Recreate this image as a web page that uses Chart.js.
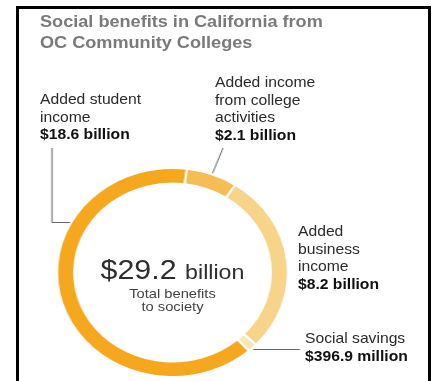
<!DOCTYPE html>
<html>
<head>
<meta charset="utf-8">
<script src="https://cdn.jsdelivr.net/npm/chart.js@4.4.0/dist/chart.umd.min.js"></script>
<style>
  body { margin: 0; width: 433px; height: 381px; background: #fff; overflow: hidden; position: relative; font-family: "Liberation Sans", Arial, sans-serif; }
  #frame { position: absolute; left: 16px; top: 6px; width: 415px; height: 400px; box-sizing: border-box; border: 3px solid #000; border-bottom: none; }
  #wrap { position: absolute; left: 0; top: 0; transform-origin: 0 0; }
  .t { position: absolute; white-space: nowrap; transform: scaleX(1.105); transform-origin: 0 0; }
  #title { left: 40px; top: 11px; font-size: 16.4px; font-weight: bold; color: #7a7a7a; line-height: 21px; }
  .lab { font-size: 14.2px; line-height: 17.5px; color: #2b2b2b; }
  .lab b { color: #111; }
  #center { left: 62px; width: 221px; top: 255px; text-align: center; color: #2e2e2e; transform-origin: 50% 0; }
  #center .big { font-size: 27.5px; line-height: 30px; }
  #center .big span { font-size: 21px; }
  #center .sub { font-size: 13.3px; line-height: 13px; color: #444; }
</style>
</head>
<body>
<div id="frame"></div>
<div id="wrap"><canvas id="c"></canvas></div>
<div class="t" id="title">Social benefits in California from<br>OC Community Colleges</div>
<div class="t lab" style="left:40px;top:91px">Added student<br>income<br><b>$18.6 billion</b></div>
<div class="t lab" style="left:215px;top:74px">Added income<br>from college<br>activities<br><b>$2.1 billion</b></div>
<div class="t lab" style="left:298px;top:223px">Added<br>business<br>income<br><b>$8.2 billion</b></div>
<div class="t lab" style="left:305px;top:330px">Social savings<br><b>$396.9 million</b></div>
<div class="t" id="center"><div class="big">$29.2 <span>billion</span></div><div class="sub">Total benefits<br>to society</div></div>
<script>
var categories = ['Added student income', 'Added income from college activities', 'Added business income', 'Social savings']
var valores = [18.6, 2.1, 8.2, 0.3969]  // billions
var cores = ['#f5a81e', '#f6bd55', '#f8d38a', '#fae6b5']

// the picture is a bit wider than tall
var esticar = 1.105
var W = Math.round(433 / esticar), H = 381
var canvas = document.getElementById('c')
canvas.width = W
canvas.height = H
canvas.style.width = W + 'px'
canvas.style.height = H + 'px'
document.getElementById('wrap').style.transform = 'scaleX(' + esticar + ')'

var cx = 172.5 / esticar, cy = 272.5

// leader lines: arc index, position along the arc, label end (page coords)
var linhas = [
  { i: 0, frac: 0.70, tipo: 'cotovelo', x: 52, y: 148 },
  { i: 1, frac: 0.5, tipo: 'reta', x: 223, y: 148 },
  { i: 3, frac: 0.5, tipo: 'horiz', x: 300 }
]

const leaderPlugin = {
  id: 'leaders',
  afterDatasetsDraw(chart) {
    var ctx = chart.ctx
    var meta = chart.getDatasetMeta(0)
    ctx.save()
    ctx.strokeStyle = '#666'
    ctx.lineWidth = 1
    linhas.forEach(function (l) {
      var arc = meta.data[l.i]
      var a = arc.startAngle + l.frac * (arc.endAngle - arc.startAngle)
      var px = arc.x + Math.cos(a) * (arc.outerRadius + 1)
      var py = arc.y + Math.sin(a) * (arc.outerRadius + 1)
      ctx.beginPath()
      if (l.tipo == 'cotovelo') {
        var lx = l.x / esticar
        ctx.moveTo(lx, l.y)
        ctx.lineTo(lx, Math.round(py) + 0.5)
        ctx.lineTo(px, Math.round(py) + 0.5)
      } else if (l.tipo == 'reta') {
        ctx.moveTo(l.x / esticar, l.y)
        ctx.lineTo(px, py)
      } else {
        ctx.moveTo(px, Math.round(py) + 0.5)
        ctx.lineTo(l.x / esticar, Math.round(py) + 0.5)
      }
      ctx.stroke()
    })
    ctx.restore()
  }
}

const data = {
  labels: categories,
  datasets: [{
    data: valores,
    backgroundColor: cores,
    borderColor: '#ffffff',
    borderWidth: 2,
    hoverOffset: 0
  }]
}

const config = {
  type: 'doughnut',
  data,
  options: {
    responsive: false,
    animation: false,
    rotation: 138.6,
    radius: 104.5,
    cutout: 91.5,
    layout: { padding: { left: 0, right: W - 2 * cx, top: 2 * cy - H, bottom: 0 } },
    plugins: { legend: { display: false }, tooltip: { enabled: false } }
  },
  plugins: [leaderPlugin]
}

const myChart = new Chart(canvas, config)
</script>
</body>
</html>
